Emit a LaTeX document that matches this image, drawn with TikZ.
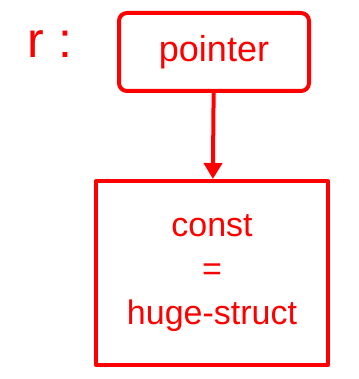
\documentclass[tikz,border=0pt]{standalone}
\usepackage{fontspec}
\setmainfont{Liberation Sans}
\usetikzlibrary{arrows.meta}
\begin{document}
\begin{tikzpicture}[x=1pt,y=-1pt,red,line width=4pt,line cap=round,line join=round]
\useasboundingbox (0,0) rectangle (358,379);
\node[font=\fontsize{50}{50}\selectfont] (r) at (50,44) {r :};
\node[draw, rounded corners=8pt, minimum width=190pt, minimum height=78pt, font=\fontsize{36}{36}\selectfont] (ptr) at (214,52) {pointer};
\node[draw, minimum width=232pt, minimum height=184pt, align=center, font=\fontsize{34}{44}\selectfont] (obj) at (212,273) {const\\=\\huge-struct};

\draw[-{Triangle[length=16pt,width=18pt]}] (ptr) -- (obj);
\end{tikzpicture}
\end{document}
